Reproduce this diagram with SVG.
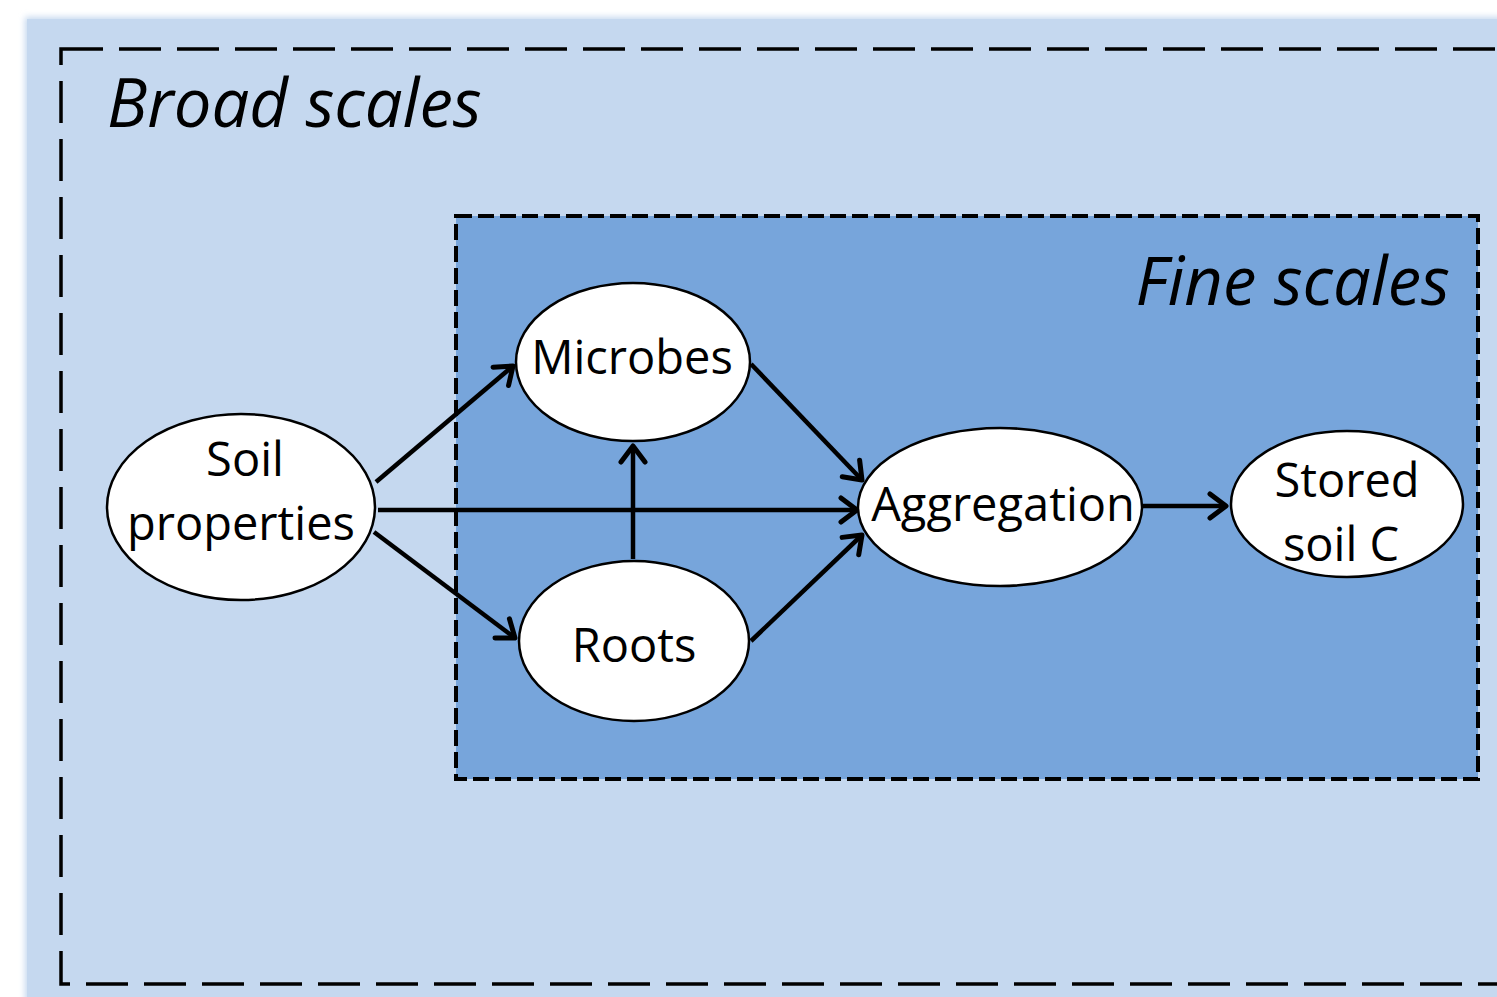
<svg xmlns="http://www.w3.org/2000/svg" width="1497" height="997" viewBox="0 0 1497 997">
<defs>
<style>
.node ellipse{fill:#fff;stroke:#000;stroke-width:2.5}
.node text{font-family:"Open Sans","Liberation Sans",sans-serif;font-size:47px;fill:#000;text-anchor:middle}
.title{font-family:"Open Sans","Liberation Sans",sans-serif;font-style:italic;font-size:67px;fill:#000}
.conn line{stroke:#000;stroke-width:4.5;marker-end:url(#ah)}
</style>
<marker id="ah" markerWidth="10" markerHeight="10" refX="8" refY="5" orient="auto" markerUnits="userSpaceOnUse" viewBox="0 0 10 10" overflow="visible">
<path d="M-8,-7 L8,5 L-8,17" fill="none" stroke="#000" stroke-width="5" stroke-linecap="round" stroke-linejoin="round"/>
</marker>
<filter id="sh" x="-5%" y="-5%" width="110%" height="110%"><feGaussianBlur stdDeviation="3"/></filter>
</defs>
<rect width="1497" height="997" fill="#fff"/>
<rect x="25" y="17" width="1500" height="1000" fill="#c5d8ef" filter="url(#sh)"/>
<rect x="27" y="19" width="1500" height="1000" fill="#c5d8ef"/>
<g id="broad">
<rect x="61" y="49" width="1480" height="935" fill="none" stroke="#000" stroke-width="3.5" stroke-dasharray="42 16"/>
<text class="title" x="107" y="127">Broad scales</text>
</g>
<g id="fine">
<rect x="456" y="216" width="1022" height="563" fill="#77a5db" stroke="#000" stroke-width="4" stroke-dasharray="16 6"/>
<text class="title" x="1450" y="305" text-anchor="end">Fine scales</text>
</g>
<g class="conn" id="connectors">
<line x1="376" y1="482" x2="513" y2="366"/>
<line x1="378" y1="510" x2="857" y2="510"/>
<line x1="374" y1="532" x2="515" y2="638"/>
<line x1="633" y1="559" x2="633" y2="446"/>
<line x1="751" y1="364" x2="862" y2="480"/>
<line x1="751" y1="641" x2="862" y2="535"/>
<line x1="1143" y1="506" x2="1226" y2="506"/>
</g>
<g class="node" id="soil">
<ellipse cx="241" cy="507" rx="134" ry="93"/>
<text x="245" y="476">Soil</text>
<text x="241" y="540">properties</text>
</g>
<g class="node" id="microbes">
<ellipse cx="633" cy="362" rx="117" ry="79"/>
<text x="632" y="374">Microbes</text>
</g>
<g class="node" id="roots">
<ellipse cx="634" cy="641" rx="115" ry="80"/>
<text x="634" y="662">Roots</text>
</g>
<g class="node" id="aggregation">
<ellipse cx="1000" cy="507" rx="142" ry="79"/>
<text x="1003" y="521">Aggregation</text>
</g>
<g class="node" id="stored">
<ellipse cx="1347" cy="504" rx="116" ry="73"/>
<text x="1347" y="497">Stored</text>
<text x="1341" y="561">soil C</text>
</g>
</svg>
